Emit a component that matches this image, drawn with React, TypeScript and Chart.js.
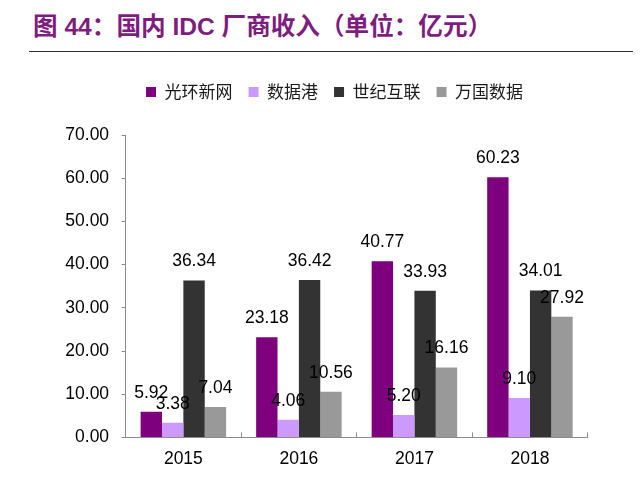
import React, { useEffect, useRef } from 'react';
import { Chart, registerables } from 'chart.js';

Chart.register(...registerables);

const titleText = '图 44：国内 IDC 厂商收入（单位：亿元）';
const categories = ['2015', '2016', '2017', '2018'];
const seriesNames = ['光环新网', '数据港', '世纪互联', '万国数据'];
const guanghuan = [5.92, 23.18, 40.77, 60.23];
const shujugang = [3.38, 4.06, 5.2, 9.1];
const shiji = [36.34, 36.42, 33.93, 34.01];
const wanguo = [7.04, 10.56, 16.16, 27.92];
const seriesColors = ['#7F007F', '#CC99FF', '#333333', '#999999'];
const yMin = 0;
const yMax = 70;
const yStep = 10;

const LATIN = '"Liberation Sans", Arial, "Noto Sans CJK SC", sans-serif';
const CJK = '"Noto Sans CJK SC", "Noto Sans CJK JP", sans-serif';
const AXIS = '#8c8c8c';

const legendSpacer = {
  id: 'legendSpacer',
  beforeLayout(chart: any) {
    const lg = chart.legend;
    if (lg && !lg.__patched) {
      const fit = lg.fit;
      lg.fit = function () {
        fit.call(this);
        this.height += 24.5;
      };
      lg.__patched = true;
    }
  },
  afterLayout(chart: any) {
    const lg = chart.legend;
    if (lg) lg.left += 61.4;
  },
};

const valueLabels = {
  id: 'valueLabels',
  afterDatasetsDraw(chart: any) {
    const ctx = chart.ctx;
    ctx.save();
    ctx.font = '17.5px ' + LATIN;
    ctx.fillStyle = '#000000';
    ctx.textAlign = 'center';
    ctx.textBaseline = 'middle';
    chart.data.datasets.forEach((ds: any, i: number) => {
      const meta = chart.getDatasetMeta(i);
      meta.data.forEach((el: any, j: number) => {
        ctx.fillText(Number(ds.data[j]).toFixed(2), el.x, el.y - 19);
      });
    });
    ctx.restore();
  },
};

export default function App() {
  const ref = useRef<HTMLCanvasElement | null>(null);

  useEffect(() => {
    if (!ref.current) return;
    const data = [guanghuan, shujugang, shiji, wanguo];
    const chart = new Chart(ref.current, {
      type: 'bar',
      data: {
        labels: categories,
        datasets: seriesNames.map((name, i) => ({
          label: name,
          data: data[i],
          backgroundColor: seriesColors[i],
          borderWidth: 0,
          categoryPercentage: 0.74,
          barPercentage: 1,
        })),
      },
      options: {
        animation: false,
        responsive: false,
        devicePixelRatio: 1,
        layout: { padding: { left: 20, right: 52.3, top: 67.5, bottom: 0.6 } },
        plugins: {
          title: { display: false },
          tooltip: { enabled: false },
          legend: {
            display: true,
            position: 'top',
            labels: {
              boxWidth: 10,
              boxHeight: 10,
              padding: 16,
              color: '#1a1a1a',
              font: { family: CJK, size: 17 },
            },
          },
        },
        scales: {
          x: {
            offset: true,
            border: { display: true, color: AXIS, width: 1 },
            grid: {
              display: true,
              offset: true,
              drawOnChartArea: false,
              drawTicks: true,
              tickLength: -5,
              color: AXIS,
            },
            ticks: { color: '#000000', padding: 16, font: { family: LATIN, size: 17.5 } },
          },
          y: {
            min: yMin,
            max: yMax,
            afterFit(scale: any) {
              scale.width = 105.6;
            },
            border: { display: true, color: AXIS, width: 1 },
            grid: {
              display: true,
              drawOnChartArea: false,
              drawTicks: true,
              tickLength: 4,
              color: AXIS,
            },
            ticks: {
              stepSize: yStep,
              color: '#000000',
              padding: 12.5,
              font: { family: LATIN, size: 17.5 },
              callback: (v: any) => Number(v).toFixed(2),
            },
          },
        },
      },
      plugins: [legendSpacer, valueLabels],
    } as any);
    return () => chart.destroy();
  }, []);

  return (
    <div style={{ position: 'absolute', left: 0, top: 0, width: 640, height: 486, background: '#fff' }}>
      <div
        style={{
          position: 'absolute',
          left: 33,
          top: 14,
          fontFamily: LATIN,
          fontWeight: 'bold',
          fontSize: 24.6,
          lineHeight: '25px',
          color: '#7F1D7F',
          whiteSpace: 'nowrap',
        }}
      >
        {titleText}
      </div>
      <div style={{ position: 'absolute', left: 29, top: 51, width: 604, height: 1, background: '#333' }} />
      <canvas
        ref={ref}
        width={640}
        height={486}
        style={{ position: 'absolute', left: 0, top: 0, width: 640, height: 486 }}
      />
    </div>
  );
}
